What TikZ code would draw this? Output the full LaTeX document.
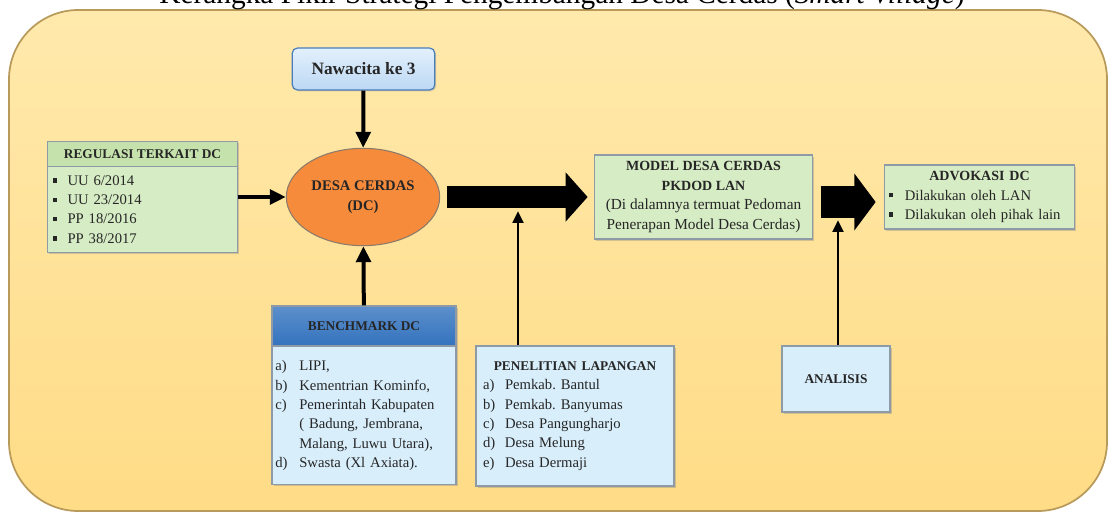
\documentclass[tikz,border=0pt]{standalone}
\usepackage{fontspec}
\setmainfont{Liberation Serif}
\usetikzlibrary{shapes.geometric,arrows.meta,shadows}
\frenchspacing

\definecolor{bgtop}{HTML}{FFE9AC}
\definecolor{bgbot}{HTML}{FFDC86}
\definecolor{bgline}{HTML}{B89A5A}
\definecolor{navtop}{HTML}{E3F0FC}
\definecolor{navbot}{HTML}{BCD8F4}
\definecolor{navline}{HTML}{4A7EBB}
\definecolor{dcfill}{HTML}{F68B3C}
\definecolor{dcline}{HTML}{8C7B6B}
\definecolor{greenhead}{HTML}{C6E2AC}
\definecolor{greenbody}{HTML}{D6ECC4}
\definecolor{bluehead}{HTML}{3473BE}
\definecolor{bluebody}{HTML}{D8EEFB}
\definecolor{boxline}{HTML}{8E9AA6}

\newcommand\sqbul{\rule[2pt]{3.2pt}{3.2pt}}

\begin{document}
\begin{tikzpicture}[x=0.75pt, y=-0.75pt]
    \tikzstyle{box}=[rectangle, draw=boxline, line width=0.8pt, inner sep=0pt,
        drop shadow={opacity=0.35, shadow xshift=1.2pt, shadow yshift=-1.2pt}]
    \tikzstyle{greenbox}=[box, fill=greenbody]
    \tikzstyle{bluebox}=[box, fill=bluebody]
    \tikzstyle{hdr}=[font=\bfseries\fontsize{10}{12}\selectfont, text=black!85]
    \tikzstyle{lst}=[font=\fontsize{11}{14.5}\selectfont, text=black!85, align=left]
    \tikzstyle{thin}=[line width=3pt, -{Triangle[length=12pt, width=11pt]}]
    \tikzstyle{thinner}=[line width=2.2pt, -{Triangle[length=9pt, width=8pt]}]

    \useasboundingbox (0,0) rectangle (1113,513);
    \clip (0,0) rectangle (1113,513);

    % background
    \draw[draw=bgline, line width=1.3pt, rounded corners=52pt,
        top color=bgtop, bottom color=bgbot] (9,10) rectangle (1107,511);

    \node[anchor=base, font=\fontsize{22}{26}\selectfont] (title) at (562,4)
        {Kerangka Pikir Strategi Pengembangan Desa Cerdas (\textit{Smart Village})};

    % top and centre
    \node[rectangle, rounded corners=4pt, draw=navline, line width=0.9pt,
        top color=navtop, bottom color=navbot, minimum width=107pt, minimum height=31.5pt,
        font=\bfseries\fontsize{13}{15}\selectfont, text=black!85,
        drop shadow={opacity=0.3, shadow xshift=1pt, shadow yshift=-1pt}]
        (nawacita) at (363.5,69) {Nawacita ke 3};

    \node[ellipse, draw=dcline, line width=0.8pt, fill=dcfill, minimum width=115pt,
        minimum height=73pt, inner sep=0pt, align=center, hdr,
        font=\bfseries\fontsize{11}{15}\selectfont]
        (dc) at (363,197) {DESA CERDAS\\(DC)};

    % regulasi
    \node[box, fill=greenhead, minimum width=142pt, minimum height=19pt, hdr]
        (reghead) at (142.5,154.5) {REGULASI TERKAIT DC};
    \node[greenbox, minimum width=142pt, minimum height=64pt, lst, text width=134.5pt]
        (regbody) at (142.5,209.5)
        {\makebox[11pt][l]{\sqbul}UU 6/2014\\
         \makebox[11pt][l]{\sqbul}UU 23/2014\\
         \makebox[11pt][l]{\sqbul}PP 18/2016\\
         \makebox[11pt][l]{\sqbul}PP 38/2017};

    % benchmark
    \node[box, top color=bluehead!80!white, bottom color=bluehead, minimum width=138pt,
        minimum height=30pt, hdr] (benchhead) at (364,326) {BENCHMARK DC};
    \node[bluebox, minimum width=138pt, minimum height=104pt, lst, text width=133pt]
        (benchbody) at (364,415.5)
        {\makebox[18pt][l]{a)}LIPI,\\
         \makebox[18pt][l]{b)}Kementrian Kominfo,\\
         \makebox[18pt][l]{c)}Pemerintah Kabupaten\\
         \makebox[18pt][l]{}( Badung, Jembrana,\\
         \makebox[18pt][l]{}Malang, Luwu Utara),\\
         \makebox[18pt][l]{d)}Swasta (Xl Axiata).};

    % penelitian and analisis
    \node[bluebox, minimum width=148.5pt, minimum height=105pt, lst, text width=138pt]
        (penelitian) at (575,416)
        {\makebox[138pt][c]{\bfseries\fontsize{10}{12}\selectfont PENELITIAN LAPANGAN}\\
         \makebox[16.5pt][l]{a)}Pemkab. Bantul\\
         \makebox[16.5pt][l]{b)}Pemkab. Banyumas\\
         \makebox[16.5pt][l]{c)}Desa Pangungharjo\\
         \makebox[16.5pt][l]{d)}Desa Melung\\
         \makebox[16.5pt][l]{e)}Desa Dermaji};

    \node[bluebox, minimum width=81pt, minimum height=49.5pt, hdr]
        (analisis) at (836,379) {ANALISIS};

    % model and advokasi
    \node[greenbox, minimum width=163pt, minimum height=63pt, align=center,
        font=\fontsize{11.5}{14.6}\selectfont, text=black!85]
        (model) at (703.5,197)
        {\textbf{\fontsize{10.5}{14.6}\selectfont MODEL DESA CERDAS}\\
         \textbf{\fontsize{10.5}{14.6}\selectfont PKDOD LAN}\\
         (Di dalamnya termuat Pedoman\\
         Penerapan Model Desa Cerdas)};

    \node[greenbox, minimum width=143pt, minimum height=48pt, lst, text width=136pt]
        (advokasi) at (979.5,197)
        {\makebox[136pt][c]{\bfseries\fontsize{10.5}{12}\selectfont ADVOKASI DC}\\
         \makebox[12pt][l]{\sqbul}Dilakukan oleh LAN\\
         \makebox[12pt][l]{\sqbul}Dilakukan oleh pihak lain};

    % connectors
    \coordinate (biga) at (518,211);
    \coordinate (bigb) at (838,220);

    \draw[line width=16.5pt, -{Triangle[length=16.5pt, width=36pt]},
        shorten <=5pt, shorten >=5pt] (dc.east) -- (model.west);
    \draw[line width=24pt, -{Triangle[length=16pt, width=42pt]},
        shorten <=6pt, shorten >=6pt]
        ([yshift=-3.75pt]model.east) -- ([yshift=-3.75pt]advokasi.west);

    \path [thin] (nawacita) edge (dc);
    \path [thin] (benchhead) edge (dc);
    \path [thin] (regbody.east |- dc) edge (dc);
    \path [thinner] (biga |- penelitian.north) edge (biga);
    \path [thinner] (bigb |- analisis.north) edge (bigb);
\end{tikzpicture}
\end{document}
